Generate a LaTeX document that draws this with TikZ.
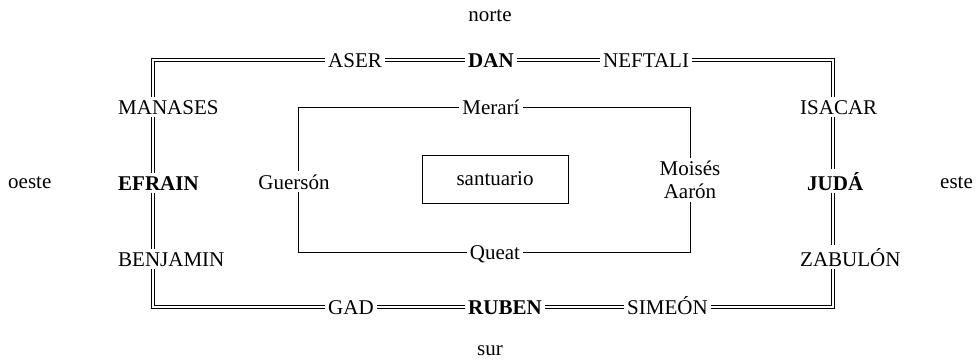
\documentclass[tikz,border=0pt]{standalone}
\usepackage{fontspec}
\setmainfont{Liberation Serif}
\tikzset{
  lab/.style={font=\fontsize{21}{23}\selectfont, inner sep=3pt},
  railline/.style={draw=black, line width=0.8pt, line cap=butt},
  thinline/.style={draw=black, line width=0.8pt}}
\begin{document}
\begin{tikzpicture}[x=1pt,y=-1pt]
\useasboundingbox (0,0) rectangle (980,361);
% compass
\node[lab] (norte) at (490,16) {norte};
\node[lab] (sur) at (490,351) {sur};
\node[lab, anchor=west] (oeste) at (5,183) {oeste};
\node[lab, anchor=west] (este) at (937,183) {este};
% outer camp labels
\node[lab, anchor=base west] (aser) at (325,67) {ASER};
\node[lab, anchor=base west] (dan) at (465,67) {\bfseries DAN};
\node[lab, anchor=base west] (neftali) at (600,67) {NEFTALI};
\node[lab, anchor=base west] (gad) at (325,314) {GAD};
\node[lab, anchor=base west] (ruben) at (465,314) {\bfseries RUBEN};
\node[lab, anchor=base west] (simeon) at (624,314) {SIMEÓN};
\node[lab, anchor=base west] (manases) at (115,114) {MANASES};
\node[lab, anchor=base west] (efrain) at (115,190) {\bfseries EFRAIN};
\node[lab, anchor=base west] (benjamin) at (115,266) {BENJAMIN};
\node[lab, anchor=base west] (isacar) at (797,114) {ISACAR};
\node[lab, anchor=base west] (juda) at (804,190) {\bfseries JUDÁ};
\node[lab, anchor=base west] (zabulon) at (797,266) {ZABULÓN};
% double-line corners (outer o, inner i)
\coordinate (tlo) at (151.8,58.8); \coordinate (tli) at (154.2,61.2);
\coordinate (tro) at (834.2,58.8); \coordinate (tri) at (831.8,61.2);
\coordinate (bro) at (834.2,308.2); \coordinate (bri) at (831.8,305.8);
\coordinate (blo) at (151.8,308.2); \coordinate (bli) at (154.2,305.8);
\foreach \c in {o,i}{
  \draw[railline] (aser.west |- tl\c) -- (tl\c) -- (tl\c |- manases.north);
  \draw[railline] (aser.east |- tl\c) -- (dan.west |- tl\c);
  \draw[railline] (dan.east |- tl\c) -- (neftali.west |- tl\c);
  \draw[railline] (neftali.east |- tr\c) -- (tr\c) -- (tr\c |- isacar.north);
  \draw[railline] (tr\c |- isacar.south) -- (tr\c |- juda.north);
  \draw[railline] (tr\c |- juda.south) -- (tr\c |- zabulon.north);
  \draw[railline] (tr\c |- zabulon.south) -- (br\c) -- (simeon.east |- br\c);
  \draw[railline] (simeon.west |- br\c) -- (ruben.east |- br\c);
  \draw[railline] (ruben.west |- br\c) -- (gad.east |- br\c);
  \draw[railline] (gad.west |- bl\c) -- (bl\c) -- (bl\c |- benjamin.south);
  \draw[railline] (bl\c |- benjamin.north) -- (bl\c |- efrain.south);
  \draw[railline] (bl\c |- efrain.north) -- (bl\c |- manases.south);
}
% inner camp
\coordinate (itl) at (298,107); \coordinate (itr) at (690,107);
\coordinate (ibl) at (298,252); \coordinate (ibr) at (690,252);
\node[lab, anchor=base] (merari) at (491,114) {Merarí};
\node[lab, anchor=base] (queat) at (495,259) {Queat};
\node[lab, anchor=base] (guerson) at (294,189) {Guersón};
\node[lab, align=center] (moises) at (690,180) {Moisés\\Aarón};
\draw[thinline] (merari.west |- itl) -- (itl) -- (itl |- guerson.north);
\draw[thinline] (itl |- guerson.south) -- (ibl) -- (queat.west |- ibl);
\draw[thinline] (queat.east |- ibr) -- (ibr) -- (ibr |- moises.south);
\draw[thinline] (ibr |- moises.north) -- (itr) -- (merari.east |- itr);
\node[lab, thinline, minimum width=146pt, minimum height=48pt] (santuario) at (495,179) {santuario};
\end{tikzpicture}
\end{document}
